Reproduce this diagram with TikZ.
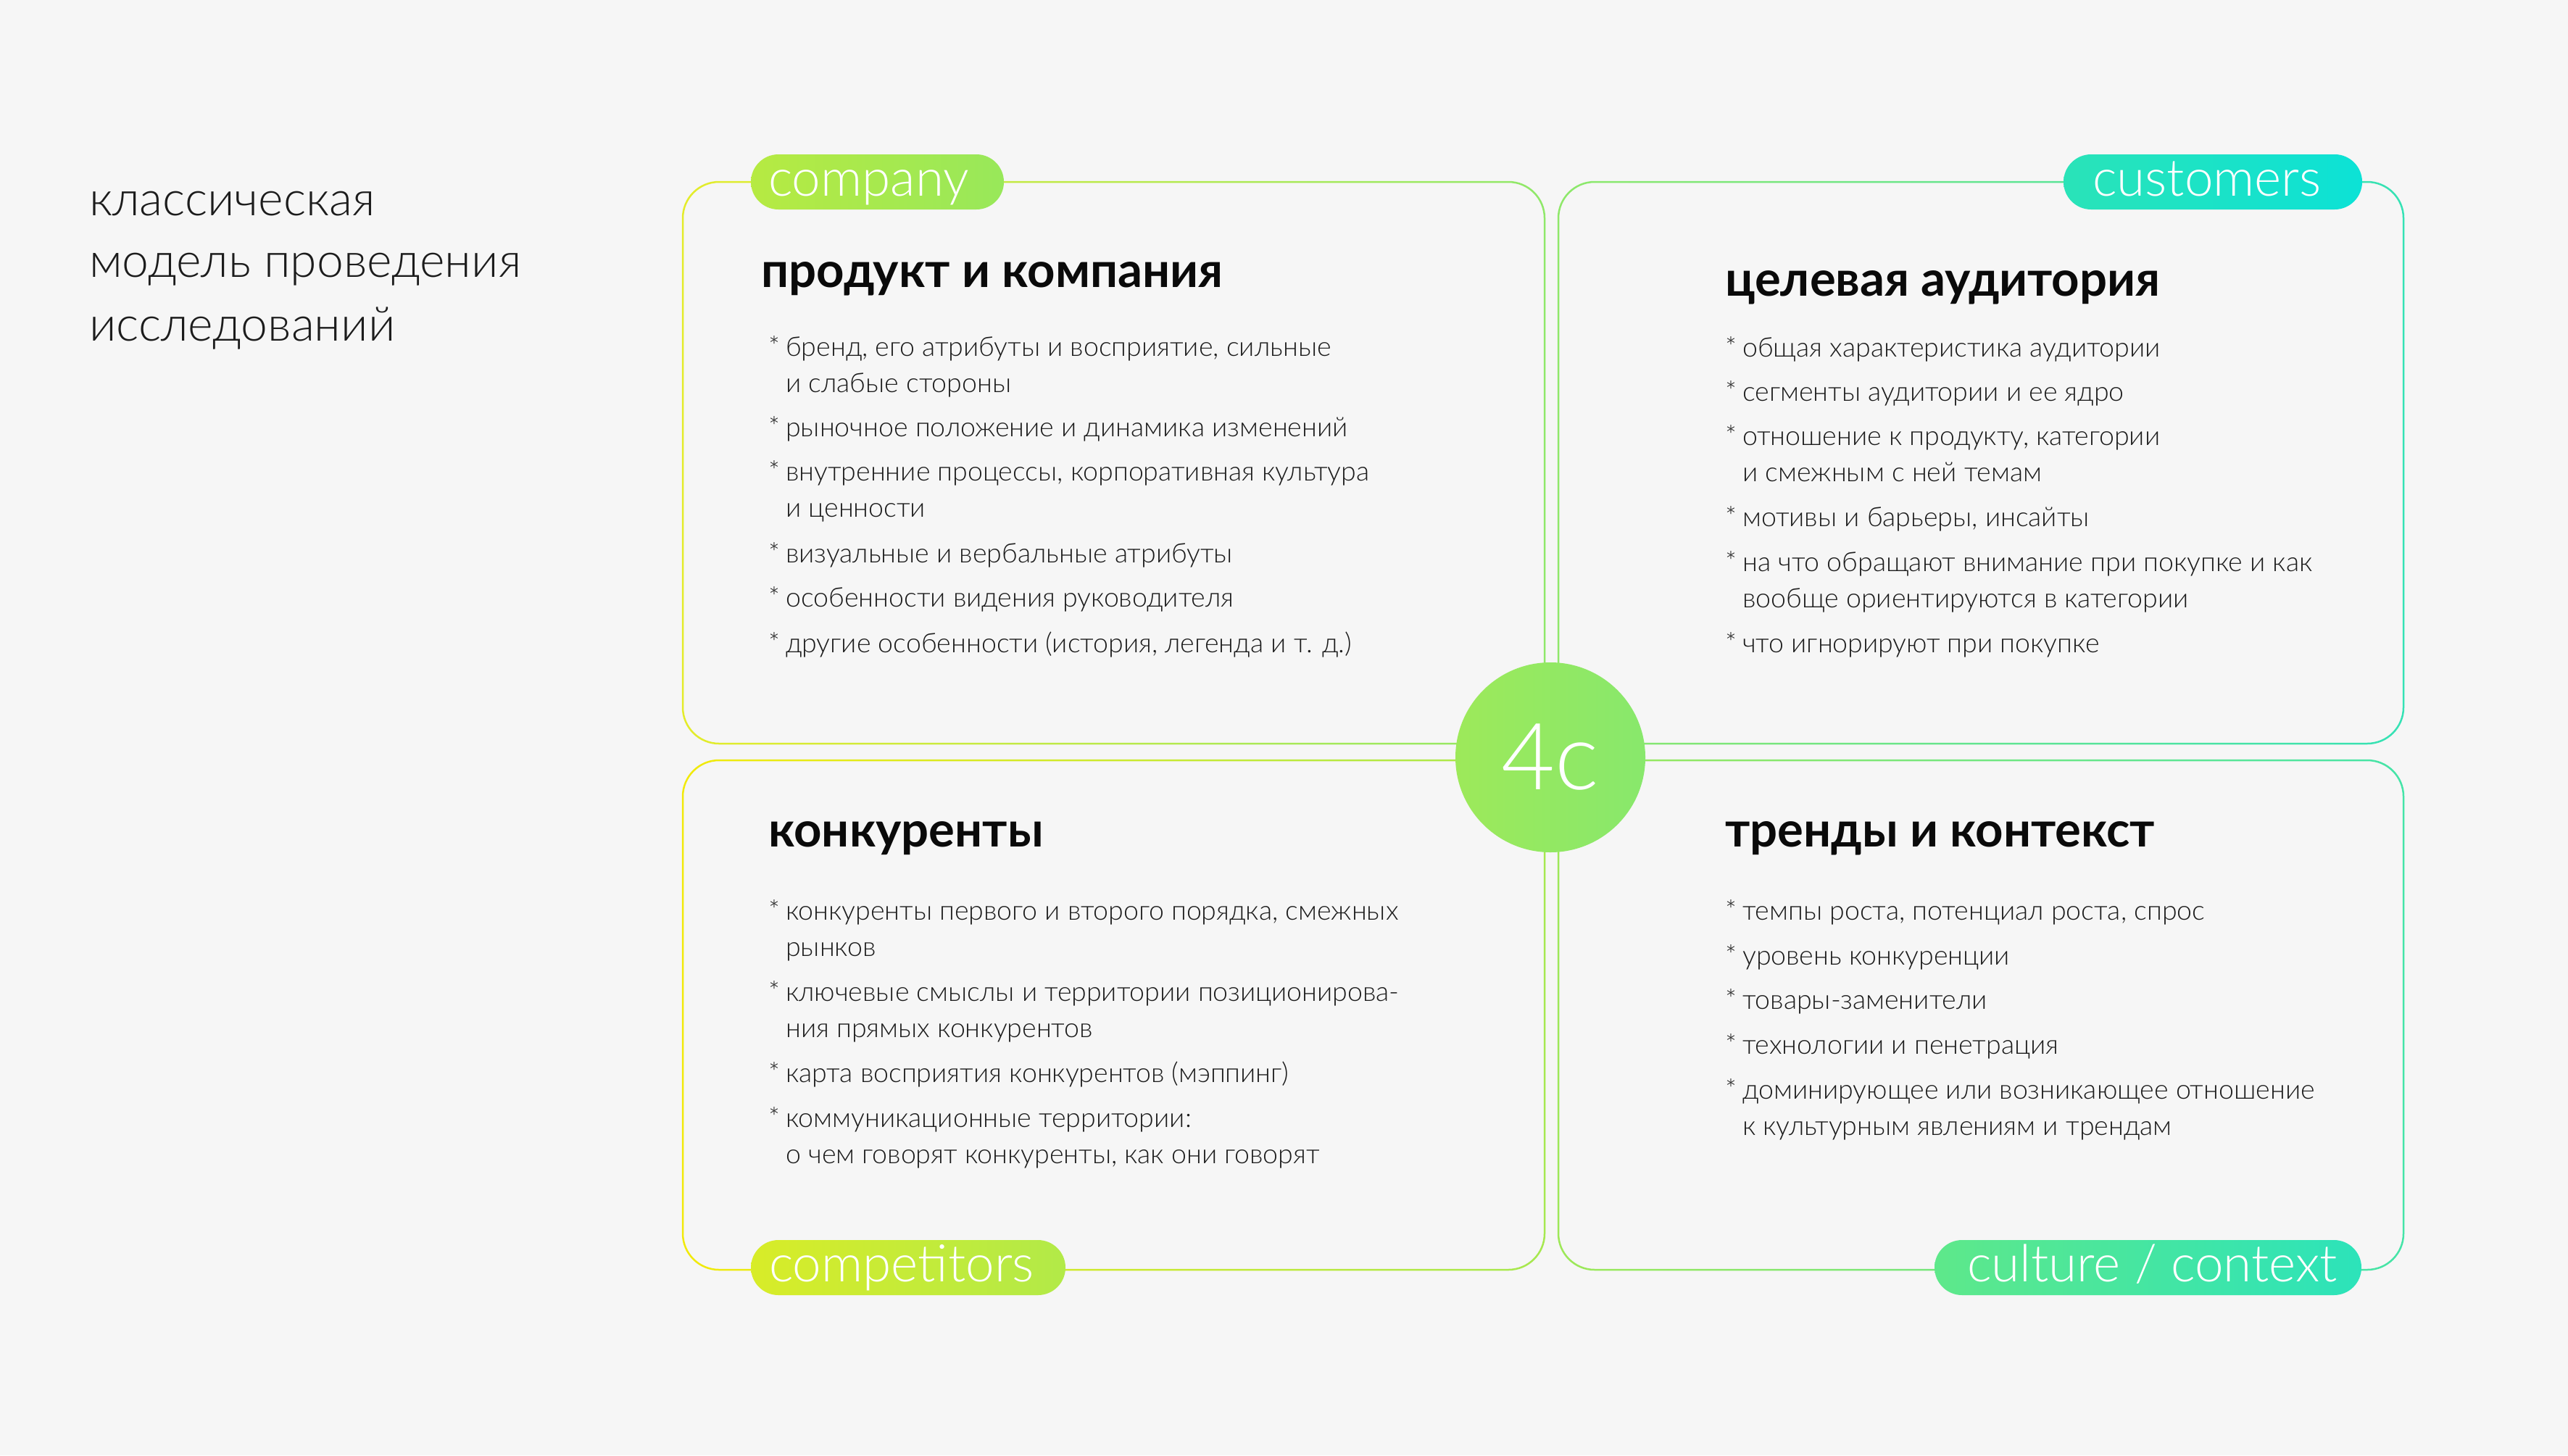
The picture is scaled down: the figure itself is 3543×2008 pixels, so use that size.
\documentclass[tikz,border=0pt]{standalone}
\usepackage{fontspec}
\setmainfont{Lato}
\newfontfamily\lightfont{Lato Light}
\definecolor{bg}{HTML}{F6F6F6}
\definecolor{txt}{HTML}{1C1C1C}
\definecolor{headc}{HTML}{0A0A0A}
\definecolor{rA1}{HTML}{E4EC2A}\definecolor{rA2}{HTML}{8FE86A}
\definecolor{rB1}{HTML}{8FE86A}\definecolor{rB2}{HTML}{35E2B5}
\definecolor{rC1}{HTML}{F2EA0A}\definecolor{rC2}{HTML}{A6E850}
\definecolor{rD1}{HTML}{9EE858}\definecolor{rD2}{HTML}{45E4A8}
\definecolor{pA1}{HTML}{B6EA42}\definecolor{pA2}{HTML}{98E85A}
\definecolor{pB1}{HTML}{2AE3B8}\definecolor{pB2}{HTML}{0CE2D6}
\definecolor{pC1}{HTML}{D8EC28}\definecolor{pC2}{HTML}{B2EA48}
\definecolor{pD1}{HTML}{5EE88A}\definecolor{pD2}{HTML}{2CE3BA}
\definecolor{cir1}{HTML}{9DE95A}\definecolor{cir2}{HTML}{88E86C}
\newcommand\fbody{\lightfont\fontsize{37.5}{40}\selectfont}
\newcommand\fhead{\bfseries\fontsize{67}{70}\selectfont}
\newcommand\fttl{\lightfont\fontsize{66}{70}\selectfont}
\newcommand\fpill{\lightfont\fontsize{71}{74}\selectfont}
\newcommand\ffour{\lightfont\fontsize{128}{130}\selectfont}
\newcommand\bul{\makebox[0pt][r]{*\hspace{8pt}}}
% ring: x1 y1 x2 y2 leftcolor rightcolor
\newcommand\ring[6]{%
  \shade[even odd rule,left color=#5,right color=#6]
    [rounded corners=51.25pt] (#1-1.25,#2-1.25) rectangle (#3+1.25,#4+1.25)
    [rounded corners=48.75pt] (#1+1.25,#2+1.25) rectangle (#3-1.25,#4-1.25);}
\tikzset{
  item/.style={anchor=base west,inner sep=0pt,font=\fbody,text=txt},
  head/.style={anchor=base west,inner sep=0pt,font=\fhead,text=headc},
  ttl/.style={anchor=base west,inner sep=0pt,font=\fttl,text=txt},
  pill/.style={rounded corners=38pt,minimum height=76pt,inner sep=0pt},
  pilltext/.style={anchor=base west,inner sep=0pt,font=\fpill,text=white},
}
\begin{document}
\begin{tikzpicture}[x=1pt,y=-1pt]
\fill[bg] (0,0) rectangle (3543,2008);
\useasboundingbox (0,0) rectangle (3543,2008);

% title
\node[ttl] (t1) at (123,297) {классическая};
\node[ttl] (t2) at (123,382) {модель проведения};
\node[ttl] (t3) at (123,470) {исследований};

% frames
\ring{942}{251}{2131}{1026}{rA1}{rA2}
\ring{2150}{251}{3316}{1026}{rB1}{rB2}
\ring{942}{1049}{2131}{1752}{rC1}{rC2}
\ring{2150}{1049}{3316}{1752}{rD1}{rD2}

% pills
\node[pill,minimum width=349pt,left color=pA1,right color=pA2] (pcomp) at (1210.5,251) {};
\node[pilltext] (tcomp) at ([xshift=24pt,yshift=-19pt]pcomp.west) {company};
\node[pill,minimum width=412pt,left color=pB1,right color=pB2] (pcust) at (3053,251) {};
\node[pilltext] (tcust) at ([xshift=40pt,yshift=-19pt]pcust.west) {customers};
\node[pill,minimum width=434pt,left color=pC1,right color=pC2] (pcmpt) at (1253,1749) {};
\node[pilltext] (tcmpt) at ([xshift=25pt,yshift=-19pt]pcmpt.west) {competitors};
\node[pill,minimum width=589pt,left color=pD1,right color=pD2] (pcult) at (2963.5,1749) {};
\node[pilltext] (tcult) at ([xshift=45pt,yshift=-19pt]pcult.west) {culture / context};

% center circle
\node[circle,minimum size=262pt,inner sep=0pt,left color=cir1,right color=cir2,text=white,font=\ffour] (four) at (2139,1045) {4c};

% top-left
\node[head] (h1) at (1050,396) {продукт и компания};
\node[item] (a1) at (1084,491) {\bul бренд, его атрибуты и восприятие, сильные};
\node[item] (a1b) at (1084,541) {и слабые стороны};
\node[item] (a2) at (1084,602) {\bul рыночное положение и динамика изменений};
\node[item] (a3) at (1084,663) {\bul внутренние процессы, корпоративная культура};
\node[item] (a3b) at (1084,713) {и ценности};
\node[item] (a4) at (1084,776) {\bul визуальные и вербальные атрибуты};
\node[item] (a5) at (1084,837) {\bul особенности видения руководителя};
\node[item] (a6) at (1084,900) {\bul другие особенности (история, легенда и т. д.)};

% top-right
\node[head] (h2) at (2380,408) {целевая аудитория};
\node[item] (b1) at (2404,492) {\bul общая характеристика аудитории};
\node[item] (b2) at (2404,553) {\bul сегменты аудитории и ее ядро};
\node[item] (b3) at (2404,614) {\bul отношение к продукту, категории};
\node[item] (b3b) at (2404,664) {и смежным с ней темам};
\node[item] (b4) at (2404,726) {\bul мотивы и барьеры, инсайты};
\node[item] (b5) at (2404,788) {\bul на что обращают внимание при покупке и как};
\node[item] (b5b) at (2404,838) {вообще ориентируются в категории};
\node[item] (b6) at (2404,900) {\bul что игнорируют при покупке};

% bottom-left
\node[head] (h3) at (1060,1168) {конкуренты};
\node[item] (c1) at (1084,1269) {\bul конкуренты первого и второго порядка, смежных};
\node[item] (c1b) at (1084,1319) {рынков};
\node[item] (c2) at (1084,1381) {\bul ключевые смыслы и территории позиционирова-};
\node[item] (c2b) at (1084,1431) {ния прямых конкурентов};
\node[item] (c3) at (1084,1493) {\bul карта восприятия конкурентов (мэппинг)};
\node[item] (c4) at (1084,1555) {\bul коммуникационные территории:};
\node[item] (c4b) at (1084,1605) {о чем говорят конкуренты, как они говорят};

% bottom-right
\node[head] (h4) at (2380,1168) {тренды и контекст};
\node[item] (d1) at (2404,1269) {\bul темпы роста, потенциал роста, спрос};
\node[item] (d2) at (2404,1331) {\bul уровень конкуренции};
\node[item] (d3) at (2404,1392) {\bul товары-заменители};
\node[item] (d4) at (2404,1454) {\bul технологии и пенетрация};
\node[item] (d5) at (2404,1516) {\bul доминирующее или возникающее отношение};
\node[item] (d5b) at (2404,1566) {к культурным явлениям и трендам};
\end{tikzpicture}
\end{document}
